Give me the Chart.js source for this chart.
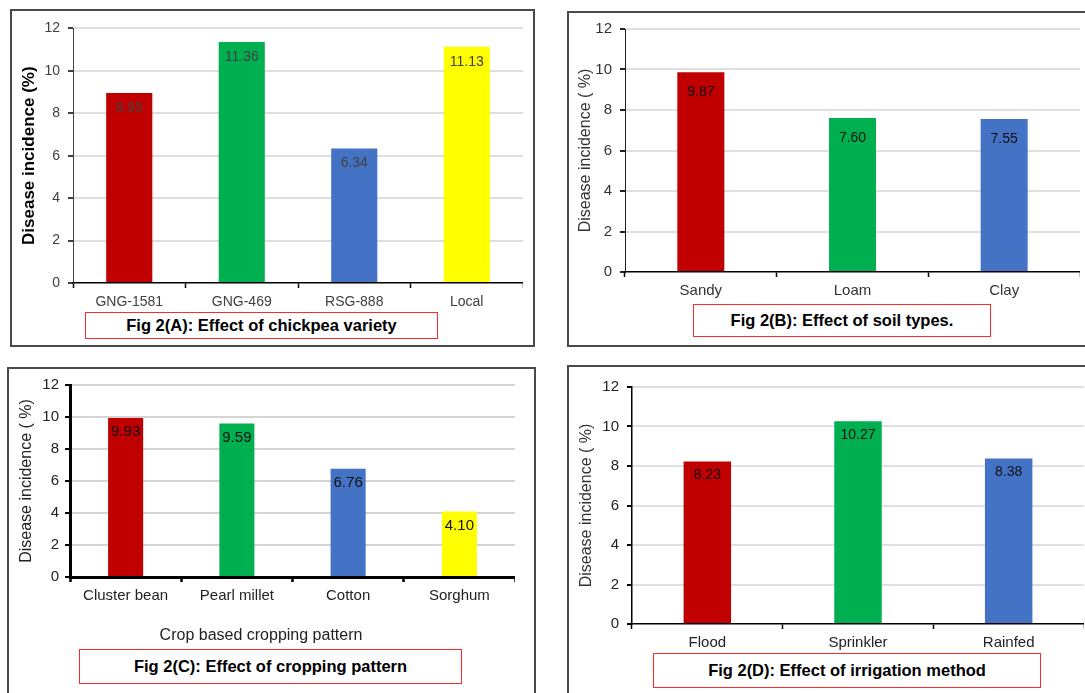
<!DOCTYPE html>
<html>
<head>
<meta charset="utf-8">
<script src="https://cdn.jsdelivr.net/npm/chart.js@4.4.0/dist/chart.umd.min.js"></script>
<style>
  html, body { margin:0; padding:0; background:#fff; }
  body { position:relative; width:1085px; height:693px; overflow:hidden; font-family:'Liberation Sans', Arial, sans-serif; }
  .panel { position:absolute; border:2px solid #4a4a4a; box-sizing:border-box; background:#fff; }
  canvas { position:absolute; }
  .caption { position:absolute; box-sizing:border-box; border:1.5px solid #ff2a2a; display:flex; align-items:center; justify-content:center;
             font-weight:bold; font-size:16.5px; color:#000; white-space:nowrap; background:#fff; }
</style>
</head>
<body>
<div class="panel" style="left:10px;top:9px;width:525px;height:338px;"></div>
<div class="panel" style="left:567px;top:11px;width:600px;height:336px;"></div>
<div class="panel" style="left:7px;top:367px;width:529px;height:400px;"></div>
<div class="panel" style="left:567px;top:365px;width:600px;height:400px;"></div>

<canvas id="chartA" width="511" height="301" style="left:12px;top:12px;"></canvas>
<canvas id="chartB" width="510" height="290" style="left:570px;top:12px;"></canvas>
<canvas id="chartC" width="508" height="277" style="left:7px;top:370px;"></canvas>
<canvas id="chartD" width="513" height="284" style="left:571px;top:370px;"></canvas>

<div class="caption" style="left:85px;top:312px;width:353px;height:27px;">Fig 2(A): Effect of chickpea variety</div>
<div class="caption" style="left:693px;top:304px;width:298px;height:33px;">Fig 2(B): Effect of soil types.</div>
<div class="caption" style="left:79px;top:649px;width:383px;height:35px;">Fig 2(C): Effect of cropping pattern</div>
<div class="caption" style="left:653px;top:653px;width:388px;height:35px;">Fig 2(D): Effect of irrigation method</div>

<script>
// ---- data ----
const varietyLabels = ['GNG-1581', 'GNG-469', 'RSG-888', 'Local'];
const varietyIncidence = [8.95, 11.36, 6.34, 11.13];

const soilLabels = ['Sandy', 'Loam', 'Clay'];
const soilIncidence = [9.87, 7.60, 7.55];

const croppingLabels = ['Cluster bean', 'Pearl millet', 'Cotton', 'Sorghum'];
const croppingIncidence = [9.93, 9.59, 6.76, 4.10];

const irrigationLabels = ['Flood', 'Sprinkler', 'Rainfed'];
const irrigationIncidence = [8.23, 10.27, 8.38];

const yMin = 0, yMax = 12, yStep = 2;
const yTitle = 'Disease incidence (%)';
const croppingAxisTitle = 'Crop based cropping pattern';

const palette = ['#C00000', '#00B050', '#4472C4', '#FFFF00'];
const FONT = "'Liberation Sans', Arial, sans-serif";

const valueLabels = {
  id: 'valueLabels',
  afterDatasetsDraw(chart, args, opts) {
    const ctx = chart.ctx;
    const meta = chart.getDatasetMeta(0);
    const data = chart.data.datasets[0].data;
    ctx.save();
    ctx.font = opts.size + 'px ' + FONT;
    ctx.fillStyle = opts.color;
    ctx.textAlign = 'center';
    ctx.textBaseline = 'middle';
    meta.data.forEach((bar, i) => {
      ctx.fillText(data[i].toFixed(2), bar.x, bar.y + opts.offset);
    });
    ctx.restore();
  }
};

function makeChart(id, labels, values, c) {
  const plugins = {
    legend: { display: false },
    tooltip: { enabled: false },
    valueLabels: { size: c.valSize, color: c.valColor, offset: c.valOffset }
  };
  if (c.bottomTitle) {
    plugins.title = {
      display: true, position: 'bottom', text: c.bottomTitle, color: '#222',
      font: { family: FONT, size: 16, weight: 'normal', lineHeight: 1.25 },
      padding: { top: 19, bottom: 1 }
    };
  }
  return new Chart(document.getElementById(id), {
    type: 'bar',
    data: {
      labels: labels,
      datasets: [{
        data: values,
        backgroundColor: palette.slice(0, values.length),
        borderWidth: 0,
        barPercentage: c.barPct,
        categoryPercentage: 1
      }]
    },
    plugins: [valueLabels],
    options: {
      responsive: false,
      animation: false,
      devicePixelRatio: 1,
      layout: { padding: { top: c.padTop, left: 0, right: 0, bottom: 0 } },
      plugins: plugins,
      scales: {
        x: {
          grid: { drawOnChartArea: false, drawTicks: true, tickLength: 5, tickColor: '#000', tickWidth: c.xTickWidth, offset: true },
          border: { color: '#000', width: c.xAxisWidth },
          ticks: { color: c.tickColor, font: { family: FONT, size: c.catSize }, padding: c.xPad, maxRotation: 0, autoSkip: false },
          afterFit: s => { s.height = 30; }
        },
        y: {
          min: yMin, max: yMax,
          ticks: { stepSize: yStep, color: c.tickColor, font: { family: FONT, size: c.tickSize }, padding: c.yPad },
          grid: {
            color: ctx => (ctx.tick && ctx.tick.value === 0) ? 'rgba(0,0,0,0)' : c.gridColor,
            lineWidth: c.gridWidth,
            tickColor: c.yAxisColor, tickLength: 5, drawTicks: true
          },
          border: { color: c.yAxisColor, width: c.yAxisWidth },
          title: {
            display: true, text: c.yTitleText, color: c.yTitleColor,
            font: { family: FONT, size: c.yTitleSize, weight: c.yTitleWeight, lineHeight: 1.2 },
            padding: { top: c.yTitlePad, bottom: 0 }
          },
          afterFit: s => { s.width = c.yWidth; }
        }
      }
    }
  });
}

makeChart('chartA', varietyLabels, varietyIncidence, {
  padTop: 15, yWidth: 61, barPct: 0.41,
  tickColor: '#404040', tickSize: 14, catSize: 14, xPad: 6, yPad: 8,
  gridColor: '#dedede', gridWidth: 2, yAxisColor: '#404040', yAxisWidth: 1, xAxisWidth: 1.5, xTickWidth: 1.5,
  yTitleText: yTitle, yTitleColor: '#000', yTitleSize: 17, yTitleWeight: 'bold', yTitlePad: 7,
  valSize: 14, valColor: '#404040', valOffset: 15
});

makeChart('chartB', soilLabels, soilIncidence, {
  padTop: 12, yWidth: 55, barPct: 0.31,
  tickColor: '#333', tickSize: 15, catSize: 15, xPad: 5, yPad: 8,
  gridColor: '#e0e0e0', gridWidth: 2, yAxisColor: '#222', yAxisWidth: 1, xAxisWidth: 1.5, xTickWidth: 1.5,
  yTitleText: 'Disease incidence ( %)', yTitleColor: '#333', yTitleSize: 16, yTitleWeight: 'normal', yTitlePad: 6,
  valSize: 14, valColor: '#111', valOffset: 20
});

makeChart('chartC', croppingLabels, croppingIncidence, {
  padTop: 12, yWidth: 63, barPct: 0.315, bottomTitle: croppingAxisTitle,
  tickColor: '#222', tickSize: 15, catSize: 15, xPad: 5, yPad: 6,
  gridColor: '#d4d4d4', gridWidth: 2, yAxisColor: '#000', yAxisWidth: 3, xAxisWidth: 3, xTickWidth: 2.5,
  yTitleText: 'Disease incidence ( %)', yTitleColor: '#222', yTitleSize: 16, yTitleWeight: 'normal', yTitlePad: 10,
  valSize: 15, valColor: '#111', valOffset: 14
});

makeChart('chartD', irrigationLabels, irrigationIncidence, {
  padTop: 13, yWidth: 61, barPct: 0.315,
  tickColor: '#222', tickSize: 15, catSize: 15, xPad: 5, yPad: 8,
  gridColor: '#e0e0e0', gridWidth: 2, yAxisColor: '#000', yAxisWidth: 1.5, xAxisWidth: 1.5, xTickWidth: 1.5,
  yTitleText: 'Disease incidence ( %)', yTitleColor: '#333', yTitleSize: 16, yTitleWeight: 'normal', yTitlePad: 6,
  valSize: 14, valColor: '#111', valOffset: 14
});
</script>
</body>
</html>
